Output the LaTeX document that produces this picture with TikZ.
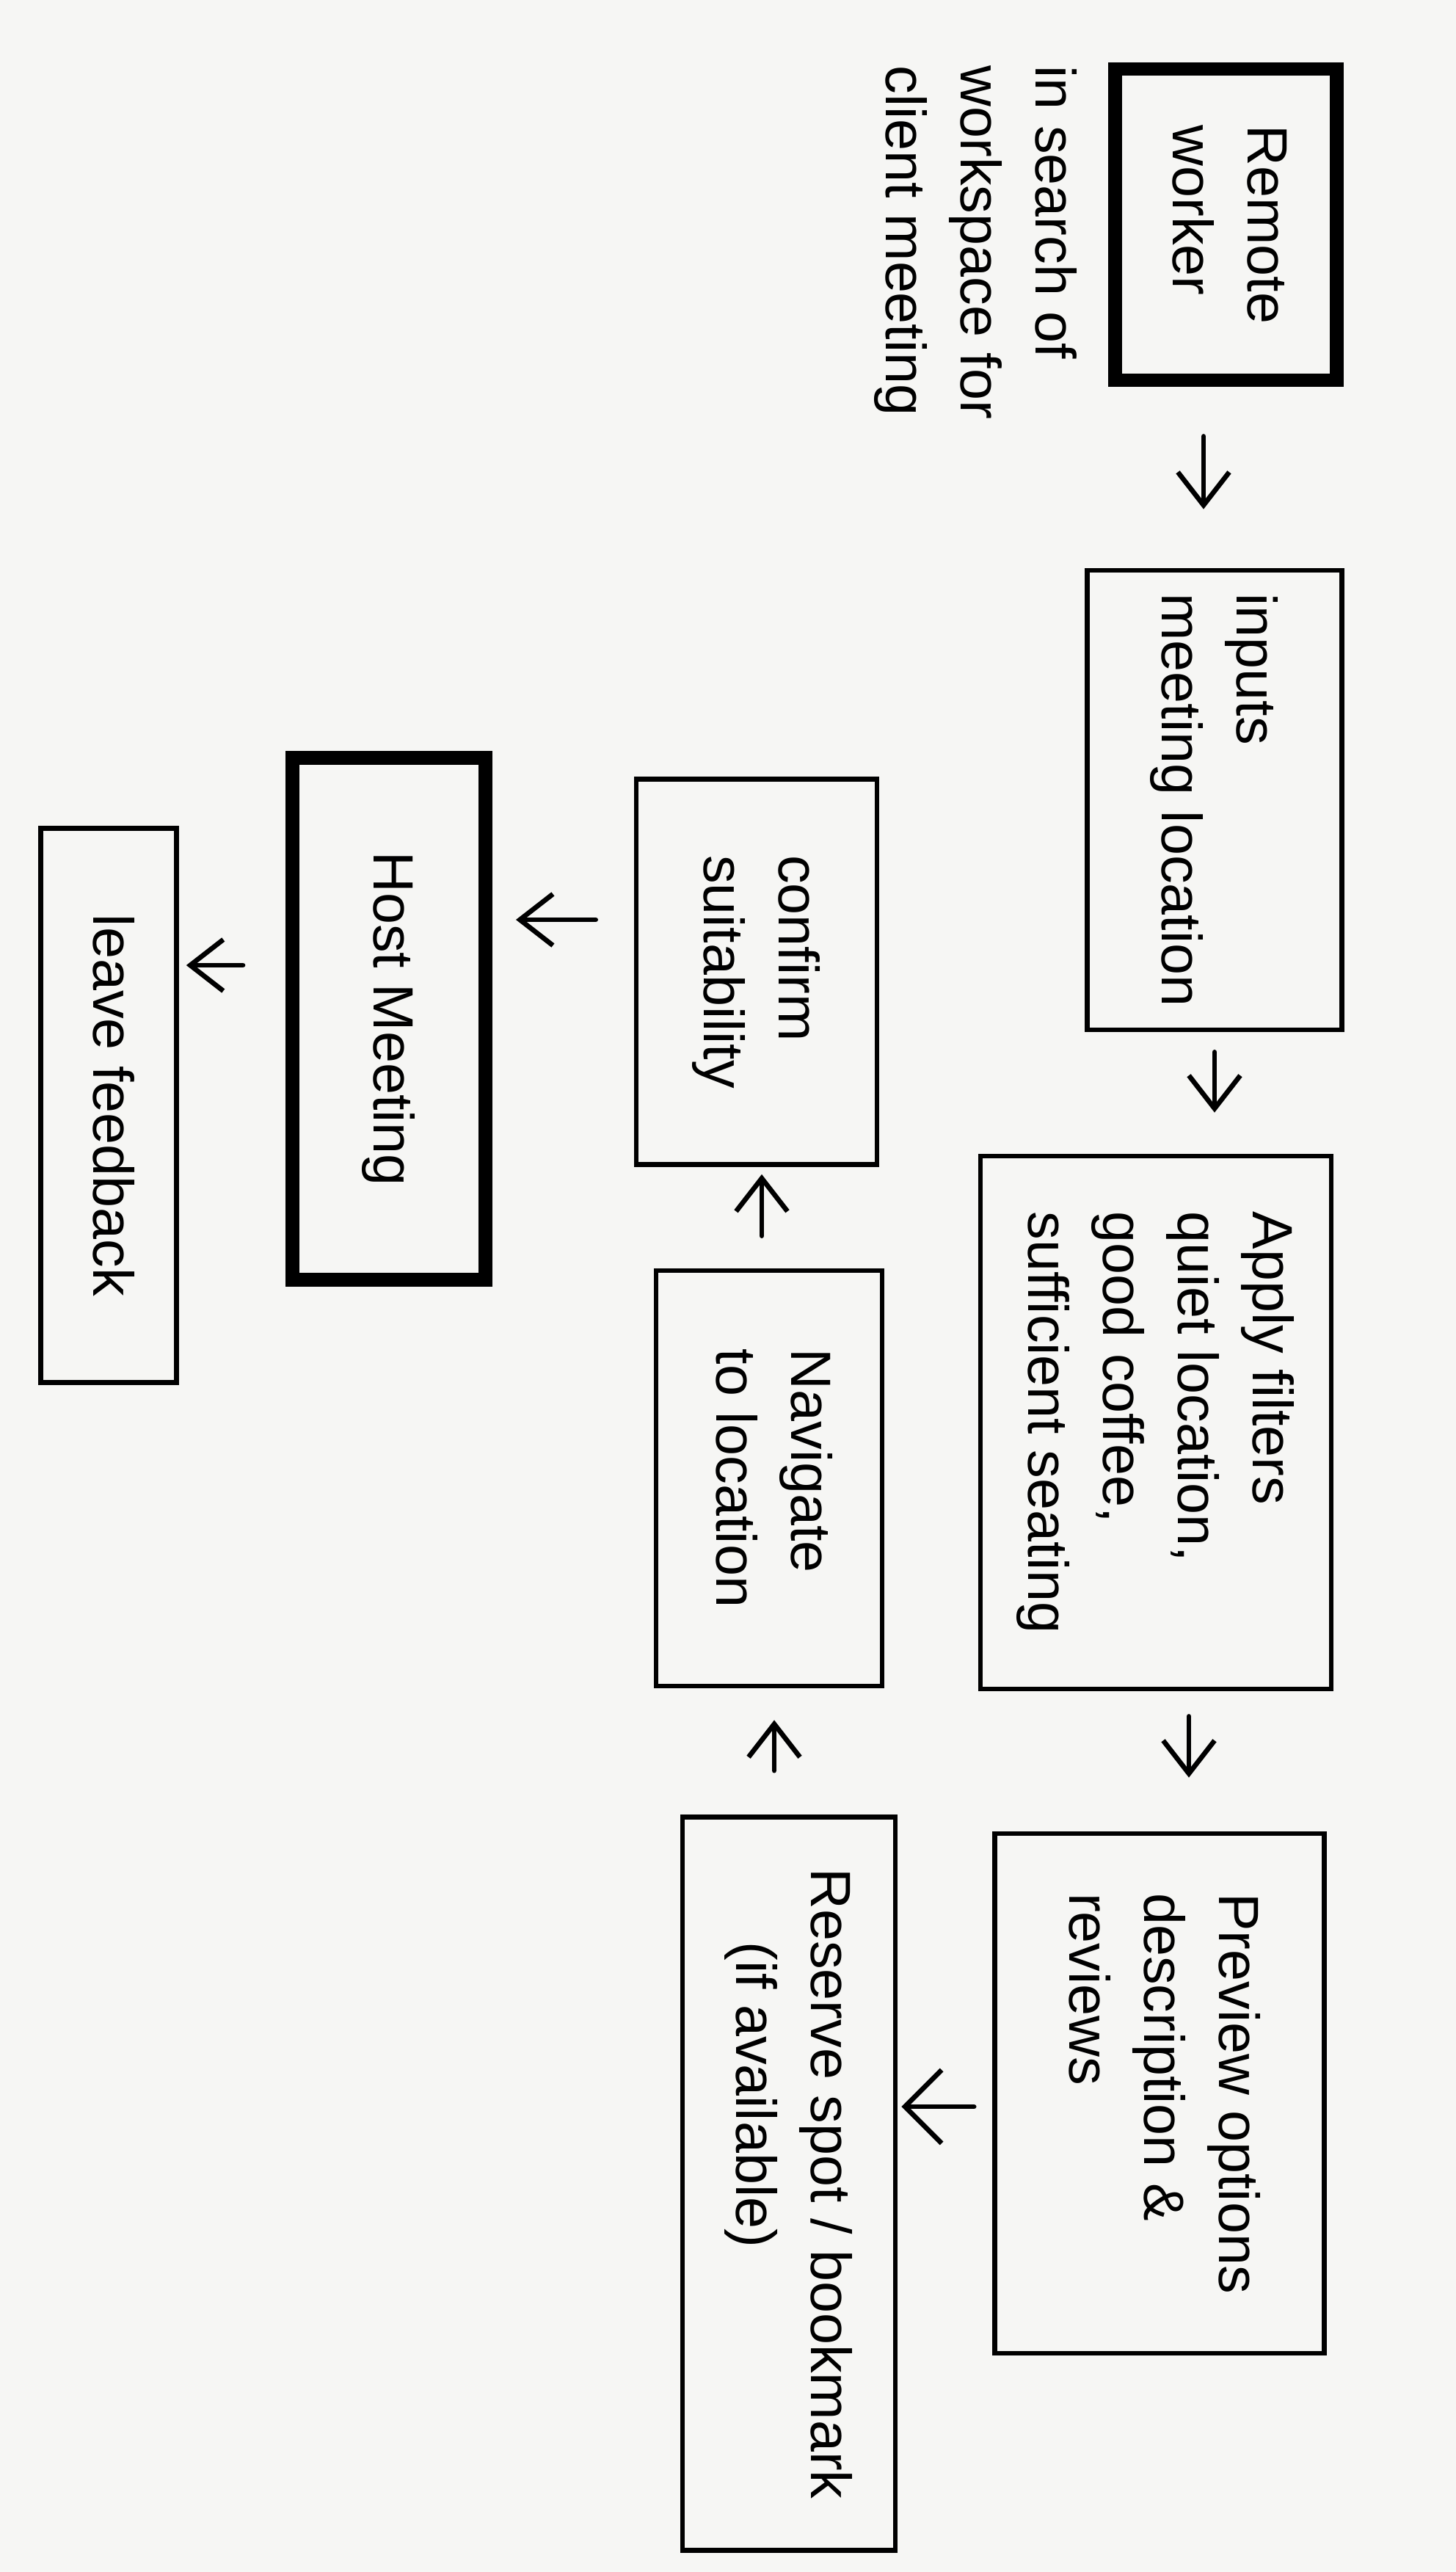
\documentclass[tikz,border=0pt]{standalone}
\usepackage{fontspec}
\setmainfont{Liberation Sans}
\usepackage{graphicx}
\usetikzlibrary{arrows.meta}
\definecolor{paper}{RGB}{246,246,244}
\newcommand{\downtext}[1]{\rotatebox{-90}{\begin{tabular}{@{}l@{}}#1\end{tabular}}}

\begin{document}
\begin{tikzpicture}
  \tikzset{taskbox/.style={draw, line width=1.9pt, inner sep=0pt, font=\fontsize{22}{29}\selectfont},
           keybox/.style={taskbox, line width=5.4pt},
           note/.style={inner sep=0pt, font=\fontsize{22}{29}\selectfont},
           flowarrow/.style={line width=1.9pt, line cap=round, -{Straight Barb[length=4.5mm,width=7mm]}}}
  \useasboundingbox[fill=paper] (0,0) rectangle (19.84,-35.04);
  \node[keybox, minimum width=3.02cm, minimum height=4.24cm] (remote) at (16.70,-3.06) {\downtext{Remote\\worker}};
  \node[note, anchor=north] (search) at (13.30,-0.89) {\downtext{in search of\\workspace for\\client meeting}};
  \node[taskbox, minimum width=3.47cm, minimum height=6.26cm] (inputs) at (16.55,-10.90) {\downtext{inputs\\meeting location}};
  \node[taskbox, minimum width=4.78cm, minimum height=7.26cm] (filters) at (15.75,-19.38) {\downtext{Apply filters\\quiet location,\\good coffee,\\sufficient seating}};
  \node[taskbox, minimum width=4.49cm, minimum height=7.08cm] (preview) at (15.80,-28.52) {\downtext{Preview options\\description \&\\reviews}};
  \node[taskbox, minimum width=2.90cm, minimum height=9.99cm] (reserve) at (10.75,-29.75) {\downtext{Reserve spot / bookmark\\\hspace{1cm}(if available)}};
  \node[taskbox, minimum width=3.08cm, minimum height=5.66cm] (navigate) at (10.48,-20.14) {\downtext{Navigate\\to location}};
  \node[taskbox, minimum width=3.28cm, minimum height=5.25cm] (confirm) at (10.31,-13.24) {\downtext{confirm\\suitability}};
  \node[keybox, minimum width=2.63cm, minimum height=7.11cm] (host) at (5.30,-13.88) {\downtext{Host Meeting}};
  \node[taskbox, minimum width=1.85cm, minimum height=7.55cm] (feedback) at (1.48,-15.06) {\downtext{leave feedback}};

  \draw[flowarrow, shorten <=6.7mm, shorten >=8mm] ([xshift=-3mm]remote.south) -- ([xshift=-3mm]remote.south |- inputs.north);
  \draw[flowarrow, shorten <=2.7mm, shorten >=5.6mm] (inputs.south) -- (inputs.south |- filters.north);
  \draw[flowarrow, shorten <=3.4mm, shorten >=7.3mm] ([xshift=4.5mm]filters.south) -- ([xshift=4.5mm]filters.south |- preview.north);
  \draw[flowarrow, shorten <=2.5mm, shorten >=0.5mm, -{Straight Barb[length=5mm,width=10mm]}] ([yshift=-1.8mm]preview.west) -- ([yshift=-1.8mm]preview.west -| reserve.east);
  \draw[flowarrow, shorten <=6mm, shorten >=4.3mm] ([xshift=-2mm]reserve.north) -- ([xshift=-2mm]reserve.north |- navigate.south);
  \draw[flowarrow, shorten <=4.4mm, shorten >=1mm] ([xshift=-1mm]navigate.north) -- ([xshift=-1mm]navigate.north |- confirm.south);
  \draw[flowarrow, shorten <=5.2mm, shorten >=3.2mm] ([yshift=7.1mm]confirm.west) -- ([yshift=7.1mm]confirm.west -| host.east);
  \draw[flowarrow, shorten <=5.8mm, shorten >=1mm] ([yshift=7.3mm]host.west) -- ([yshift=7.3mm]host.west -| feedback.east);
\end{tikzpicture}
\end{document}
